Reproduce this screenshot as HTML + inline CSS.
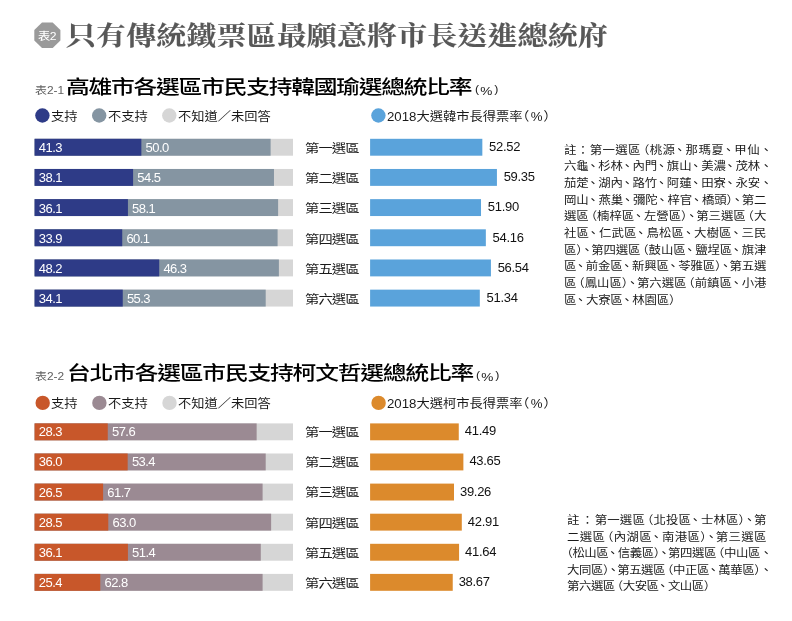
<!DOCTYPE html>
<html lang="zh-Hant"><head><meta charset="utf-8"><title>表2</title>
<style>
html,body{margin:0;padding:0;background:#fff;}
body{width:792px;height:621px;position:relative;overflow:hidden;font-family:"Liberation Sans","Noto Sans CJK TC",sans-serif;color:#111;}
.gfx{position:absolute;left:0;top:0;width:792px;height:621px;}
.title{position:absolute;left:66.3px;top:16px;font-family:"Liberation Serif","Noto Serif CJK TC","Noto Serif CJK SC",serif;font-weight:700;font-size:27px;letter-spacing:0.12px;color:#575757;-webkit-text-stroke:0.12px #575757;white-space:nowrap;line-height:40px;transform:scale(1.11,0.97);transform-origin:0 85%;}
.sub{position:absolute;white-space:nowrap;font-weight:500;font-size:22px;line-height:28px;color:#000;letter-spacing:-1.07px;transform:scale(1.08,0.9);transform-origin:0 80%;}
.subn{position:absolute;white-space:nowrap;font-size:11px;line-height:14px;color:#606060;transform:scale(1.085,0.92);transform-origin:0 80%;}
.pct{position:absolute;white-space:nowrap;font-size:12.4px;line-height:14px;color:#222;letter-spacing:1.5px;transform:scale(1,0.9);transform-origin:0 80%;}
.lg{position:absolute;white-space:nowrap;font-size:13px;line-height:16px;color:#1a1a1a;transform:scale(1.02,0.94);transform-origin:0 55%;}
.row{position:absolute;left:0;width:792px;height:17px;}
.row span{position:absolute;top:0.4px;line-height:17px;font-size:13px;color:#fff;letter-spacing:-0.55px;white-space:nowrap;}
.row .nm{position:absolute;left:305px;top:1.3px;line-height:17px;font-size:13px;letter-spacing:-0.8px;color:#1a1a1a;white-space:nowrap;transform:scale(1.1,0.93);transform-origin:0 50%;}
.row .v{position:absolute;top:-0.7px;line-height:17px;font-size:13px;letter-spacing:-0.3px;color:#111;white-space:nowrap;}
.pct b{font-weight:normal;display:inline-block;position:relative;top:1.9px;transform:scaleX(1.1);margin:0 0.6px;}
.lg i.h{font-style:normal;font-feature-settings:"halt";}
.note{position:absolute;font-size:11.4px;color:#1a1a1a;transform:scaleX(1.09);transform-origin:0 0;letter-spacing:-0.94px;}
.note .ln{text-align:justify;text-align-last:justify;white-space:nowrap;}
.note .ln.last{text-align:left;text-align-last:left;}
.note i{font-style:normal;font-feature-settings:"halt";}
.note i.po{margin-left:2px;}
.note i.c2{font-feature-settings:normal;margin:0 -1.6px 0 -1.6px;}
.note i.cm{font-feature-settings:normal;margin-right:-2.4px;position:relative;left:-1.8px;}
.note i.co{font-feature-settings:normal;}
.n2 i.co{margin:0 1px 0 1.5px;}
</style></head><body>
<svg class="gfx" viewBox="0 0 792 621">
<polygon points="42,22.6 52.7,22.6 60.4,30.1 60.4,40.6 52.7,48.1 42,48.1 34.3,40.6 34.3,30.1" fill="#9a9a9a"/>
<text transform="translate(47,39.7) scale(1.06,0.92)" x="0" y="0" text-anchor="middle" font-family="Liberation Sans, Noto Sans CJK TC, sans-serif" font-size="11.5" font-weight="500" letter-spacing="-0.4" fill="#fff">表2</text>
<circle cx="42.4" cy="115.5" r="7.2" fill="#2e3b87"/><circle cx="99.2" cy="115.5" r="7.2" fill="#8595a2"/><circle cx="169.3" cy="115.5" r="7.2" fill="#d6d6d6"/><circle cx="378.4" cy="115.5" r="7.2" fill="#5aa3db"/><circle cx="42.7" cy="402.9" r="7.2" fill="#c8572a"/><circle cx="99.4" cy="402.9" r="7.2" fill="#9b8a93"/><circle cx="169.5" cy="402.9" r="7.2" fill="#d6d6d6"/><circle cx="378.6" cy="402.9" r="7.2" fill="#dc8a2c"/>
<rect x="34.6" y="138.8" width="258.4" height="16.9" fill="#d6d6d6"/><rect x="34.6" y="138.8" width="236.01" height="16.9" fill="#8595a2"/><rect x="34.6" y="138.8" width="106.76" height="16.9" fill="#2e3b87"/><rect x="370.1" y="138.8" width="112.24" height="16.9" fill="#5aa3db"/>
<rect x="34.6" y="168.97" width="258.4" height="16.9" fill="#d6d6d6"/><rect x="34.6" y="168.97" width="239.37" height="16.9" fill="#8595a2"/><rect x="34.6" y="168.97" width="98.49" height="16.9" fill="#2e3b87"/><rect x="370.1" y="168.97" width="126.83" height="16.9" fill="#5aa3db"/>
<rect x="34.6" y="199.14" width="258.4" height="16.9" fill="#d6d6d6"/><rect x="34.6" y="199.14" width="243.51" height="16.9" fill="#8595a2"/><rect x="34.6" y="199.14" width="93.32" height="16.9" fill="#2e3b87"/><rect x="370.1" y="199.14" width="110.91" height="16.9" fill="#5aa3db"/>
<rect x="34.6" y="229.31" width="258.4" height="16.9" fill="#d6d6d6"/><rect x="34.6" y="229.31" width="242.99" height="16.9" fill="#8595a2"/><rect x="34.6" y="229.31" width="87.63" height="16.9" fill="#2e3b87"/><rect x="370.1" y="229.31" width="115.74" height="16.9" fill="#5aa3db"/>
<rect x="34.6" y="259.48" width="258.4" height="16.9" fill="#d6d6d6"/><rect x="34.6" y="259.48" width="244.28" height="16.9" fill="#8595a2"/><rect x="34.6" y="259.48" width="124.60" height="16.9" fill="#2e3b87"/><rect x="370.1" y="259.48" width="120.83" height="16.9" fill="#5aa3db"/>
<rect x="34.6" y="289.65" width="258.4" height="16.9" fill="#d6d6d6"/><rect x="34.6" y="289.65" width="231.10" height="16.9" fill="#8595a2"/><rect x="34.6" y="289.65" width="88.15" height="16.9" fill="#2e3b87"/><rect x="370.1" y="289.65" width="109.71" height="16.9" fill="#5aa3db"/>
<rect x="34.6" y="423.4" width="258.4" height="16.9" fill="#d6d6d6"/><rect x="34.6" y="423.4" width="222.05" height="16.9" fill="#9b8a93"/><rect x="34.6" y="423.4" width="73.16" height="16.9" fill="#c8572a"/><rect x="370.1" y="423.4" width="88.66" height="16.9" fill="#dc8a2c"/>
<rect x="34.6" y="453.5" width="258.4" height="16.9" fill="#d6d6d6"/><rect x="34.6" y="453.5" width="231.10" height="16.9" fill="#9b8a93"/><rect x="34.6" y="453.5" width="93.06" height="16.9" fill="#c8572a"/><rect x="370.1" y="453.5" width="93.28" height="16.9" fill="#dc8a2c"/>
<rect x="34.6" y="483.6" width="258.4" height="16.9" fill="#d6d6d6"/><rect x="34.6" y="483.6" width="228.00" height="16.9" fill="#9b8a93"/><rect x="34.6" y="483.6" width="68.50" height="16.9" fill="#c8572a"/><rect x="370.1" y="483.6" width="83.90" height="16.9" fill="#dc8a2c"/>
<rect x="34.6" y="513.7" width="258.4" height="16.9" fill="#d6d6d6"/><rect x="34.6" y="513.7" width="236.53" height="16.9" fill="#9b8a93"/><rect x="34.6" y="513.7" width="73.67" height="16.9" fill="#c8572a"/><rect x="370.1" y="513.7" width="91.70" height="16.9" fill="#dc8a2c"/>
<rect x="34.6" y="543.8" width="258.4" height="16.9" fill="#d6d6d6"/><rect x="34.6" y="543.8" width="226.19" height="16.9" fill="#9b8a93"/><rect x="34.6" y="543.8" width="93.32" height="16.9" fill="#c8572a"/><rect x="370.1" y="543.8" width="88.98" height="16.9" fill="#dc8a2c"/>
<rect x="34.6" y="573.9" width="258.4" height="16.9" fill="#d6d6d6"/><rect x="34.6" y="573.9" width="228.00" height="16.9" fill="#9b8a93"/><rect x="34.6" y="573.9" width="65.66" height="16.9" fill="#c8572a"/><rect x="370.1" y="573.9" width="82.64" height="16.9" fill="#dc8a2c"/>
</svg>
<div class="title">只有傳統鐵票區最願意將市長送進總統府</div>

<div class="subn" style="left:35px;top:83.4px">表2-1</div>
<div class="sub" style="left:66.3px;top:72.5px;letter-spacing:-1.15px">高雄市各選區市民支持韓國瑜選總統比率</div>
<div class="pct" style="left:475px;top:82px">(<b>%</b>)</div>
<div class="lg" style="left:51px;top:108.5px">支持</div>
<div class="lg" style="left:107.5px;top:108.5px">不支持</div>
<div class="lg" style="left:177.5px;top:108.5px">不知道／未回答</div>
<div class="lg" style="left:386.5px;top:108.5px">2018大選韓市長得票率<i class="h" style="margin-right:1.5px">（</i>%<i class="h" style="margin-left:1px">）</i></div>
<div class="row t" style="top:138.80px"><span style="left:38.8px">41.3</span><span style="left:145.6px">50.0</span><div class="nm">第一選區</div><div class="v" style="left:489.1px">52.52</div></div>
<div class="row t" style="top:168.97px"><span style="left:38.8px">38.1</span><span style="left:137.3px">54.5</span><div class="nm">第二選區</div><div class="v" style="left:503.7px">59.35</div></div>
<div class="row t" style="top:199.14px"><span style="left:38.8px">36.1</span><span style="left:132.1px">58.1</span><div class="nm">第三選區</div><div class="v" style="left:487.8px">51.90</div></div>
<div class="row t" style="top:229.31px"><span style="left:38.8px">33.9</span><span style="left:126.4px">60.1</span><div class="nm">第四選區</div><div class="v" style="left:492.6px">54.16</div></div>
<div class="row t" style="top:259.48px"><span style="left:38.8px">48.2</span><span style="left:163.4px">46.3</span><div class="nm">第五選區</div><div class="v" style="left:497.7px">56.54</div></div>
<div class="row t" style="top:289.65px"><span style="left:38.8px">34.1</span><span style="left:126.9px">55.3</span><div class="nm">第六選區</div><div class="v" style="left:486.6px">51.34</div></div>
<div class="note n1" style="left:564.0px;top:141.5px;width:184.77px;line-height:16.67px">
<div class="ln" style="width:190.28px;margin-left:0.00px">註<i class="co">：</i>第一選區<i class="po">（</i>桃源<i class="cm">、</i>那瑪夏<i class="cm">、</i>甲仙、</div>
<div class="ln" style="width:190.28px;margin-left:0.00px">六龜<i class="cm">、</i>杉林<i class="cm">、</i>內門<i class="cm">、</i>旗山<i class="cm">、</i>美濃<i class="cm">、</i>茂林、</div>
<div class="ln" style="width:190.28px;margin-left:0.00px">茄萣<i class="cm">、</i>湖內<i class="cm">、</i>路竹<i class="cm">、</i>阿蓮<i class="cm">、</i>田寮<i class="cm">、</i>永安、</div>
<div class="ln" style="width:184.77px;margin-left:0.00px">岡山<i class="cm">、</i>燕巢<i class="cm">、</i>彌陀<i class="cm">、</i>梓官<i class="cm">、</i>橋頭<i class="pc">）</i><i class="c2">、</i>第二</div>
<div class="ln" style="width:184.77px;margin-left:0.00px">選區<i class="po">（</i>楠梓區<i class="cm">、</i>左營區<i class="pc">）</i><i class="c2">、</i>第三選區<i class="po">（</i>大</div>
<div class="ln" style="width:184.77px;margin-left:0.00px">社區<i class="cm">、</i>仁武區<i class="cm">、</i>鳥松區<i class="cm">、</i>大樹區<i class="cm">、</i>三民</div>
<div class="ln" style="width:184.77px;margin-left:0.00px">區<i class="pc">）</i><i class="c2">、</i>第四選區<i class="po">（</i>鼓山區<i class="cm">、</i>鹽埕區<i class="cm">、</i>旗津</div>
<div class="ln" style="width:184.77px;margin-left:0.00px">區<i class="cm">、</i>前金區<i class="cm">、</i>新興區<i class="cm">、</i>苓雅區<i class="pc">）</i><i class="c2">、</i>第五選</div>
<div class="ln" style="width:184.77px;margin-left:0.00px">區<i class="po">（</i>鳳山區<i class="pc">）</i><i class="c2">、</i>第六選區<i class="po">（</i>前鎮區<i class="cm">、</i>小港</div>
<div class="ln last" style="width:184.77px;margin-left:0.00px;letter-spacing:-0.16px">區<i class="cm">、</i>大寮區<i class="cm">、</i>林園區<i class="pc">）</i></div>
</div>

<div class="subn" style="left:35px;top:369.4px">表2-2</div>
<div class="sub" style="left:66.7px;top:358.6px;letter-spacing:-1.11px">台北市各選區市民支持柯文哲選總統比率</div>
<div class="pct" style="left:476px;top:368px">(<b>%</b>)</div>
<div class="lg" style="left:51px;top:395.6px">支持</div>
<div class="lg" style="left:107.5px;top:395.6px">不支持</div>
<div class="lg" style="left:177.5px;top:395.6px">不知道／未回答</div>
<div class="lg" style="left:386.5px;top:395.6px">2018大選柯市長得票率<i class="h" style="margin-right:1.5px">（</i>%<i class="h" style="margin-left:1px">）</i></div>
<div class="row m" style="top:423.00px"><span style="left:38.8px">28.3</span><span style="left:112.0px">57.6</span><div class="nm">第一選區</div><div class="v" style="left:464.8px">41.49</div></div>
<div class="row m" style="top:453.10px"><span style="left:38.8px">36.0</span><span style="left:131.9px">53.4</span><div class="nm">第二選區</div><div class="v" style="left:469.4px">43.65</div></div>
<div class="row m" style="top:483.20px"><span style="left:38.8px">26.5</span><span style="left:107.3px">61.7</span><div class="nm">第三選區</div><div class="v" style="left:460.0px">39.26</div></div>
<div class="row m" style="top:513.30px"><span style="left:38.8px">28.5</span><span style="left:112.5px">63.0</span><div class="nm">第四選區</div><div class="v" style="left:467.8px">42.91</div></div>
<div class="row m" style="top:543.40px"><span style="left:38.8px">36.1</span><span style="left:132.1px">51.4</span><div class="nm">第五選區</div><div class="v" style="left:465.1px">41.64</div></div>
<div class="row m" style="top:573.50px"><span style="left:38.8px">25.4</span><span style="left:104.5px">62.8</span><div class="nm">第六選區</div><div class="v" style="left:458.7px">38.67</div></div>
<div class="note n2" style="left:567.0px;top:512px;width:182.02px;line-height:16.5px">
<div class="ln" style="width:182.02px;margin-left:0.00px">註<i class="co">：</i>第一選區<i class="po">（</i>北投區<i class="cm">、</i>士林區<i class="pc">）</i><i class="c2">、</i>第</div>
<div class="ln" style="width:182.02px;margin-left:0.00px">二選區<i class="po">（</i>內湖區<i class="cm">、</i>南港區<i class="pc">）</i><i class="c2">、</i>第三選區</div>
<div class="ln" style="width:189.91px;margin-left:-2.39px"><i class="po">（</i>松山區<i class="cm">、</i>信義區<i class="pc">）</i><i class="c2">、</i>第四選區<i class="po">（</i>中山區、</div>
<div class="ln" style="width:187.52px;margin-left:0.00px">大同區<i class="pc">）</i><i class="c2">、</i>第五選區<i class="po">（</i>中正區<i class="cm">、</i>萬華區<i class="pc">）</i>、</div>
<div class="ln last" style="width:182.02px;margin-left:0.00px;letter-spacing:-0.43px">第六選區<i class="po">（</i>大安區<i class="cm">、</i>文山區<i class="pc">）</i></div>
</div>
</body></html>
